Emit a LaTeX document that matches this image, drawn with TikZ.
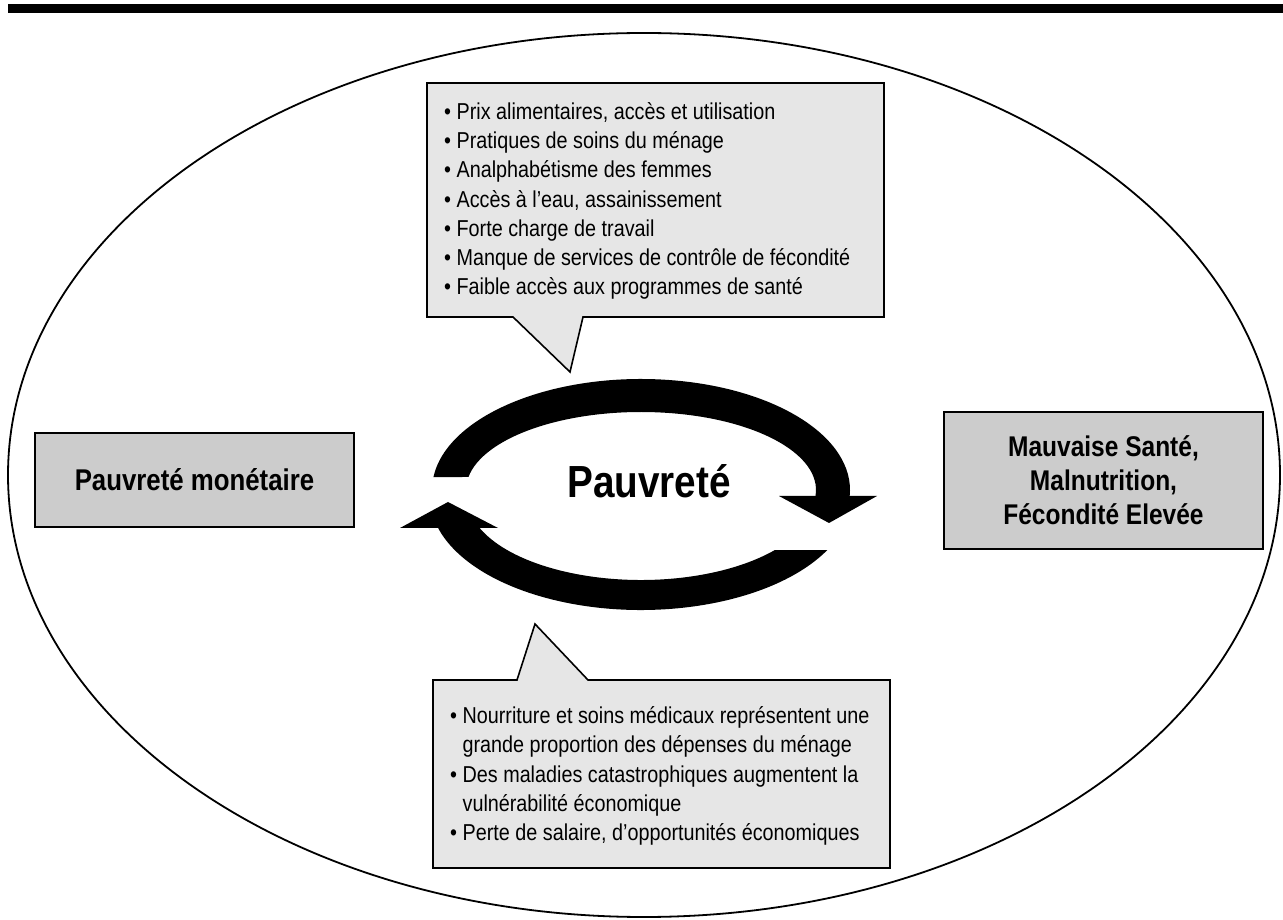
\documentclass[tikz,border=0pt]{standalone}
\usepackage{fontspec}
\setmainfont[FakeStretch=0.86]{Liberation Sans}
\usepackage{tikz}
\usetikzlibrary{
	positioning, calc
}
\definecolor{notegray}   {RGB}{230, 230, 230}
\definecolor{boxgray}    {RGB}{204, 204, 204}

\begin{document}
\begin{tikzpicture}[x=1pt,y=1pt,
		notebox/.style={fill=notegray,draw=black,line width=1.6pt,line join=miter},
		notetext/.style={anchor=west,align=left,inner sep=0pt,font=\fontsize{23}{29.3}\selectfont},
		bigbox/.style={fill=boxgray,draw=black,line width=1.6pt,inner sep=0pt,align=center,font=\bfseries}]
				\useasboundingbox (0,0) rectangle (1283,919);
				\fill (8,906) rectangle (1283,915);
				\draw[line width=1.8pt] (644,444) ellipse [x radius=636pt, y radius=442pt];
				% callouts
				\draw[notebox] (427,836) -- (884,836) -- (884,602) -- (583,602) -- (570,547) -- (513,602) -- (427,602) -- cycle;
				\node[notetext] (causes) at (444,718) {\textbullet\ Prix alimentaires, accès et utilisation\\
					\textbullet\ Pratiques de soins du ménage\\
					\textbullet\ Analphabétisme des femmes\\
					\textbullet\ Accès à l’eau, assainissement\\
					\textbullet\ Forte charge de travail\\
					\textbullet\ Manque de services de contrôle de fécondité\\
					\textbullet\ Faible accès aux programmes de santé};
				\draw[notebox] (433,239) -- (517,239) -- (535,295) -- (588,239) -- (890,239) -- (890,51) -- (433,51) -- cycle;
				\node[notetext] (effects) at (450,143) {\textbullet\ Nourriture et soins médicaux représentent une\\
					\phantom{\textbullet\ }grande proportion des dépenses du ménage\\
					\textbullet\ Des maladies catastrophiques augmentent la\\
					\phantom{\textbullet\ }vulnérabilité économique\\
					\textbullet\ Perte de salaire, d’opportunités économiques};
				% side boxes
				\node[bigbox,minimum width=319pt,minimum height=94pt,font=\bfseries\fontsize{30}{36}\selectfont] (money) at (194.5,439) {Pauvreté monétaire};
				\node[bigbox,minimum width=319pt,minimum height=137pt,font=\bfseries\fontsize{28.5}{34}\selectfont] (health) at (1103.5,438.5) {Mauvaise Santé,\\Malnutrition,\\Fécondité Elevée};
				% cycle
				\coordinate (upc) at (641,429); \coordinate (loc) at (641,422);
				\fill ([shift={(173.3:209pt and 111pt)}]upc) arc[start angle=173.3, end angle=-3.1, x radius=209pt, y radius=111pt]
					-- ([shift={(-4.4:175pt and 78pt)}]upc) arc[start angle=-4.4, end angle=170.4, x radius=175pt, y radius=78pt] -- cycle;
				\fill (779,423) -- (877,423) -- (829,396) -- cycle;
				\fill ([shift={(-28:211pt and 113pt)}]loc) arc[start angle=-28, end angle=-164.1, x radius=211pt, y radius=113pt]
					-- ([shift={(-158.1:174pt and 83pt)}]loc) arc[start angle=-158.1, end angle=-39.7, x radius=174pt, y radius=83pt] -- cycle;
				\fill (400,391) -- (498,391) -- (448,417) -- cycle;
				\node[font=\bfseries\fontsize{45}{54}\selectfont,anchor=base] (poverty) at (649,421) {Pauvreté};
			\end{tikzpicture}
\end{document}
